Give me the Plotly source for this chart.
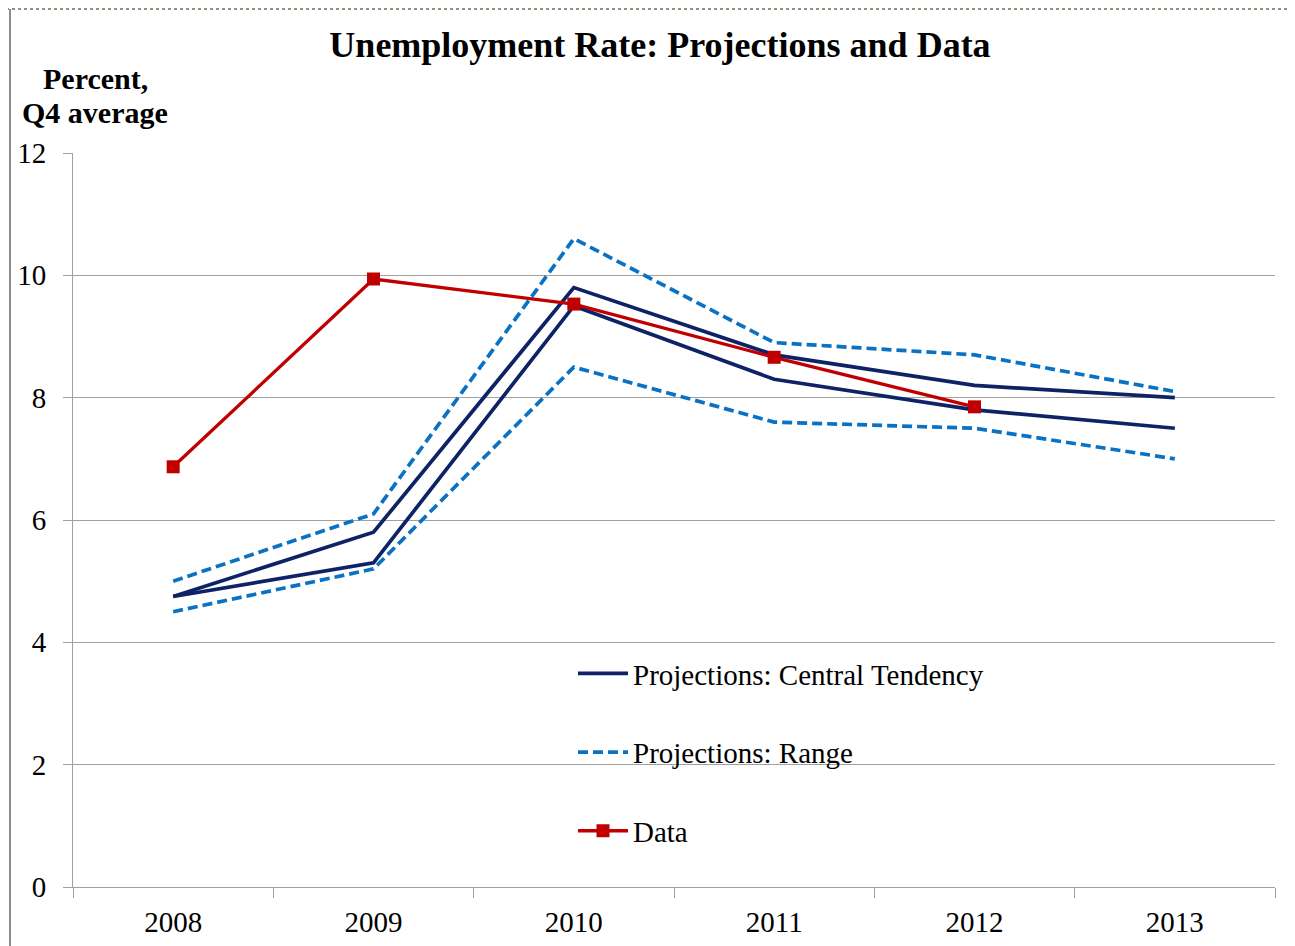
import plotly.graph_objects as go

years = ["2008", "2009", "2010", "2011", "2012", "2013"]
central_upper = [4.75, 5.8, 9.8, 8.7, 8.2, 8.0]
central_lower = [4.75, 5.3, 9.5, 8.3, 7.8, 7.5]
range_upper = [5.0, 6.1, 10.6, 8.9, 8.7, 8.1]
range_lower = [4.5, 5.2, 8.5, 7.6, 7.5, 7.0]
data_years = ["2008", "2009", "2010", "2011", "2012"]
data_values = [6.87, 9.94, 9.53, 8.66, 7.85]
y_ticks = [0, 2, 4, 6, 8, 10, 12]

NAVY = "#0E2366"
BLUE = "#0A72C4"
RED = "#C00000"
FONT = "Liberation Serif"

fig = go.Figure()
fig.add_trace(go.Scatter(x=years, y=central_upper, mode="lines", name="Projections: Central Tendency",
                         line=dict(color=NAVY, width=3.7), legendgroup="a"))
fig.add_trace(go.Scatter(x=years, y=central_lower, mode="lines", showlegend=False,
                         line=dict(color=NAVY, width=3.7), legendgroup="a"))
fig.add_trace(go.Scatter(x=years, y=range_upper, mode="lines", name="Projections: Range",
                         line=dict(color=BLUE, width=3.7, dash="10px,5px"), legendgroup="b"))
fig.add_trace(go.Scatter(x=years, y=range_lower, mode="lines", showlegend=False,
                         line=dict(color=BLUE, width=3.7, dash="10px,5px"), legendgroup="b"))
fig.add_trace(go.Scatter(x=data_years, y=data_values, mode="lines+markers", name="Data",
                         line=dict(color=RED, width=3.3), marker=dict(symbol="square", size=13, color=RED),
                         legendgroup="c"))

OFF = 8  # page body margin
W, H = 1295, 946
L, R, T, B = 73 - OFF, 1275 - OFF, 153 - OFF, 887 - OFF
pw, ph = R - L, B - T

def px_x(x):
    return (x - OFF - L) / pw

def px_y(y):
    return (B - (y - OFF)) / ph

fig.update_layout(
    width=W, height=H,
    margin=dict(l=L, r=W - R, t=T, b=H - B, autoexpand=False),
    paper_bgcolor="white", plot_bgcolor="white",
    font=dict(family=FONT, size=29, color="black"),
    title=dict(text="<b>Unemployment Rate: Projections and Data</b>", x=px_x(660), xref="paper",
               xanchor="center", yref="container", y=1 - (44 - OFF) / H, yanchor="middle",
               font=dict(size=36, family=FONT)),
    xaxis=dict(type="category", range=[-0.5, 5.5], tickson="boundaries", ticks="outside", ticklen=10,
               tickcolor="#A0A0A0", showline=True, linecolor="#A0A0A0", linewidth=1, showgrid=False,
               tickfont=dict(size=29), zeroline=False, ticklabelstandoff=9, automargin=False),
    yaxis=dict(range=[0, 12], tickvals=y_ticks, ticks="outside", ticklen=9, tickcolor="#A0A0A0",
               showline=True, linecolor="#A0A0A0", linewidth=1, showgrid=True, gridcolor="#A0A0A0",
               gridwidth=1, zeroline=False, tickfont=dict(size=29), ticklabelstandoff=11, automargin=False),
    legend=dict(x=px_x(573), y=px_y(648), xanchor="left", yanchor="top", bgcolor="rgba(0,0,0,0)",
                font=dict(size=29, family=FONT), tracegroupgap=38, traceorder="grouped",
                itemwidth=50),
    showlegend=True,
)

fig.add_annotation(text="<b>Percent,</b>", xref="paper", yref="paper", x=px_x(95), y=px_y(78),
                   xanchor="center", yanchor="middle", showarrow=False, font=dict(size=30, family=FONT))
fig.add_annotation(text="<b>Q4 average</b>", xref="paper", yref="paper", x=px_x(95), y=px_y(112),
                   xanchor="center", yanchor="middle", showarrow=False, font=dict(size=30, family=FONT))

# chart frame
fig.add_shape(type="line", xref="paper", yref="paper", x0=px_x(10), x1=px_x(10), y0=px_y(9), y1=px_y(960),
              line=dict(color="#8C8C8C", width=2))
fig.add_shape(type="line", xref="paper", yref="paper", x0=px_x(0), x1=px_x(1310), y0=px_y(9), y1=px_y(9),
              line=dict(color="#7A6A50", width=1.5, dash="dot"))

fig.write_html("out.html")
